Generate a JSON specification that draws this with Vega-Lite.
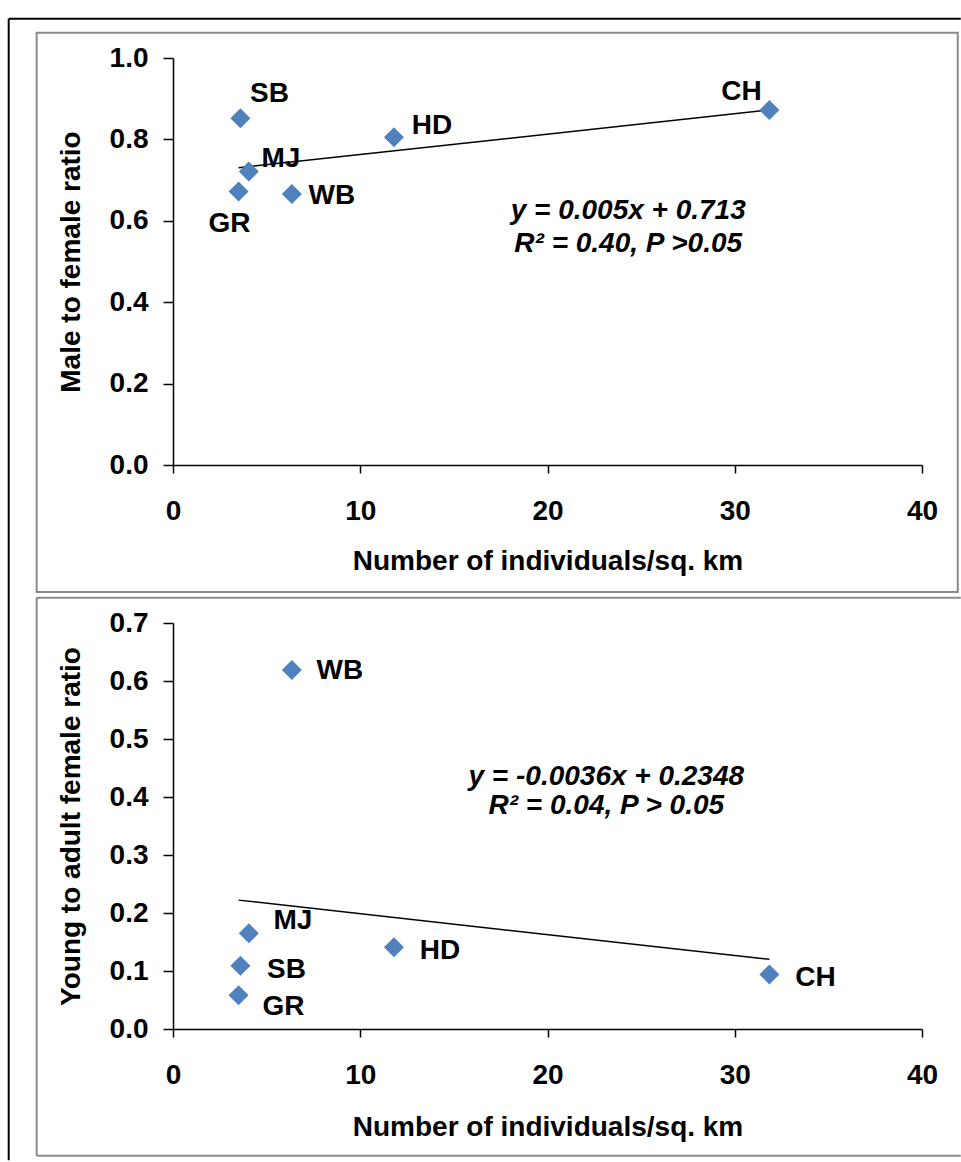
{
  "$schema": "https://vega.github.io/schema/vega-lite/v6.json",
  "padding": {"left": 7, "top": 17, "right": 0, "bottom": 0},
  "autosize": {"type": "pad"},
  "bounds": "flush",
  "spacing": 158,
  "background": "white",
  "datasets": {
    "sites": [
      {"site": "SB", "density": 3.6, "mf_ratio": 0.852, "young_ratio": 0.109},
      {"site": "MJ", "density": 4.05, "mf_ratio": 0.721, "young_ratio": 0.165},
      {"site": "GR", "density": 3.5, "mf_ratio": 0.672, "young_ratio": 0.058},
      {"site": "WB", "density": 6.35, "mf_ratio": 0.666, "young_ratio": 0.619},
      {"site": "HD", "density": 11.8, "mf_ratio": 0.805, "young_ratio": 0.141},
      {"site": "CH", "density": 31.85, "mf_ratio": 0.872, "young_ratio": 0.094}
    ],
    "trend_mf": [{"x1": 3.5, "y1": 0.7305, "x2": 31.85, "y2": 0.8723}],
    "trend_yf": [{"x1": 3.5, "y1": 0.2222, "x2": 31.85, "y2": 0.1201}]
  },
  "config": {
    "view": {"stroke": null},
    "font": "Liberation Sans",
    "text": {"font": "Liberation Sans", "fontSize": 28, "fontWeight": "bold", "color": "black"},
    "axis": {
      "grid": false,
      "domainColor": "black",
      "domainWidth": 1.5,
      "tickColor": "black",
      "tickWidth": 1.5,
      "labelFont": "Liberation Sans",
      "labelFontSize": 28,
      "labelFontWeight": "bold",
      "labelColor": "black",
      "labelOverlap": false,
      "labelFlush": false,
      "titleFont": "Liberation Sans",
      "titleFontSize": 28,
      "titleFontWeight": "bold",
      "titleColor": "black"
    }
  },
  "vconcat": [
    {
      "width": 749,
      "height": 407,
      "layer": [
        {
          "data": {"values": [{}]},
          "mark": {"type": "rule", "color": "black", "strokeWidth": 2},
          "encoding": {
            "x": {"datum": -8.774, "type": "quantitative"},
            "x2": {"datum": 42.07},
            "y": {"datum": 1.0966, "type": "quantitative"}
          }
        },
        {
          "data": {"values": [{}]},
          "mark": {"type": "rule", "color": "black", "strokeWidth": 2},
          "encoding": {
            "x": {"datum": -8.774, "type": "quantitative"},
            "y": {"datum": 1.0966, "type": "quantitative"},
            "y2": {"datum": -1.708}
          }
        },
        {
          "data": {"values": [{}]},
          "mark": {"type": "rect", "fill": "transparent", "stroke": "#8a8a8a", "strokeWidth": 2},
          "encoding": {
            "x": {"datum": -7.28, "type": "quantitative"},
            "x2": {"datum": 41.91},
            "y": {"datum": 1.0622, "type": "quantitative"},
            "y2": {"datum": -0.3123}
          }
        },
        {
          "data": {"name": "trend_mf"},
          "mark": {"type": "rule", "color": "black", "strokeWidth": 1.5},
          "encoding": {
            "x": {"field": "x1", "type": "quantitative"},
            "x2": {"field": "x2"},
            "y": {"field": "y1", "type": "quantitative"},
            "y2": {"field": "y2"}
          }
        },
        {
          "data": {"name": "sites"},
          "layer": [
            {
              "mark": {"type": "point", "shape": "diamond", "filled": true, "color": "#4F81BD", "size": 400, "opacity": 1},
              "encoding": {
                "x": {
                  "field": "density", "type": "quantitative",
                  "scale": {"domain": [0, 40], "nice": false, "zero": false},
                  "axis": {"values": [0, 10, 20, 30, 40], "format": "d", "tickSize": 8, "labelPadding": 24, "titlePadding": 22, "title": "Number of individuals/sq. km"}
                },
                "y": {
                  "field": "mf_ratio", "type": "quantitative",
                  "scale": {"domain": [0, 1], "nice": false, "zero": false},
                  "axis": {"values": [0, 0.2, 0.4, 0.6, 0.8, 1.0], "format": ".1f", "tickSize": 10, "labelPadding": 15, "titlePadding": 24, "title": "Male to female ratio"}
                }
              }
            },
            {
              "transform": [{"filter": "datum.site === 'SB'"}],
              "mark": {"type": "text", "dx": 29, "dy": -24},
              "encoding": {"x": {"field": "density", "type": "quantitative"}, "y": {"field": "mf_ratio", "type": "quantitative"}, "text": {"field": "site"}}
            },
            {
              "transform": [{"filter": "datum.site === 'MJ'"}],
              "mark": {"type": "text", "dx": 32, "dy": -13},
              "encoding": {"x": {"field": "density", "type": "quantitative"}, "y": {"field": "mf_ratio", "type": "quantitative"}, "text": {"field": "site"}}
            },
            {
              "transform": [{"filter": "datum.site === 'GR'"}],
              "mark": {"type": "text", "dx": -9, "dy": 33},
              "encoding": {"x": {"field": "density", "type": "quantitative"}, "y": {"field": "mf_ratio", "type": "quantitative"}, "text": {"field": "site"}}
            },
            {
              "transform": [{"filter": "datum.site === 'WB'"}],
              "mark": {"type": "text", "dx": 40, "dy": 2},
              "encoding": {"x": {"field": "density", "type": "quantitative"}, "y": {"field": "mf_ratio", "type": "quantitative"}, "text": {"field": "site"}}
            },
            {
              "transform": [{"filter": "datum.site === 'HD'"}],
              "mark": {"type": "text", "dx": 38, "dy": -11},
              "encoding": {"x": {"field": "density", "type": "quantitative"}, "y": {"field": "mf_ratio", "type": "quantitative"}, "text": {"field": "site"}}
            },
            {
              "transform": [{"filter": "datum.site === 'CH'"}],
              "mark": {"type": "text", "dx": -28, "dy": -18},
              "encoding": {"x": {"field": "density", "type": "quantitative"}, "y": {"field": "mf_ratio", "type": "quantitative"}, "text": {"field": "site"}}
            }
          ]
        },
        {
          "data": {"values": [{}]},
          "mark": {"type": "text", "fontStyle": "italic", "text": "y = 0.005x + 0.713"},
          "encoding": {"x": {"datum": 24.31, "type": "quantitative"}, "y": {"datum": 0.6245, "type": "quantitative"}}
        },
        {
          "data": {"values": [{}]},
          "mark": {"type": "text", "fontStyle": "italic", "text": "R² = 0.40,  P >0.05"},
          "encoding": {"x": {"datum": 24.31, "type": "quantitative"}, "y": {"datum": 0.5434, "type": "quantitative"}}
        }
      ]
    },
    {
      "width": 749,
      "height": 406,
      "layer": [
        {
          "data": {"values": [{}]},
          "mark": {"type": "rule", "color": "#8a8a8a", "strokeWidth": 2},
          "encoding": {
            "x": {"datum": -7.28, "type": "quantitative"},
            "x2": {"datum": 42.07},
            "y": {"datum": 0.7436, "type": "quantitative"}
          }
        },
        {
          "data": {"values": [{}]},
          "mark": {"type": "rule", "color": "#8a8a8a", "strokeWidth": 2},
          "encoding": {
            "x": {"datum": -7.28, "type": "quantitative"},
            "x2": {"datum": 42.07},
            "y": {"datum": -0.2184, "type": "quantitative"}
          }
        },
        {
          "data": {"values": [{}]},
          "mark": {"type": "rule", "color": "#8a8a8a", "strokeWidth": 2},
          "encoding": {
            "x": {"datum": -7.28, "type": "quantitative"},
            "y": {"datum": 0.7436, "type": "quantitative"},
            "y2": {"datum": -0.2184}
          }
        },
        {
          "data": {"name": "trend_yf"},
          "mark": {"type": "rule", "color": "black", "strokeWidth": 1.5},
          "encoding": {
            "x": {"field": "x1", "type": "quantitative"},
            "x2": {"field": "x2"},
            "y": {"field": "y1", "type": "quantitative"},
            "y2": {"field": "y2"}
          }
        },
        {
          "data": {"name": "sites"},
          "layer": [
            {
              "mark": {"type": "point", "shape": "diamond", "filled": true, "color": "#4F81BD", "size": 400, "opacity": 1},
              "encoding": {
                "x": {
                  "field": "density", "type": "quantitative",
                  "scale": {"domain": [0, 40], "nice": false, "zero": false},
                  "axis": {"values": [0, 10, 20, 30, 40], "format": "d", "tickSize": 8, "labelPadding": 24, "titlePadding": 24, "title": "Number of individuals/sq. km"}
                },
                "y": {
                  "field": "young_ratio", "type": "quantitative",
                  "scale": {"domain": [0, 0.7], "nice": false, "zero": false},
                  "axis": {"values": [0, 0.1, 0.2, 0.3, 0.4, 0.5, 0.6, 0.7], "format": ".1f", "tickSize": 10, "labelPadding": 15, "titlePadding": 24, "title": "Young to adult female ratio"}
                }
              }
            },
            {
              "transform": [{"filter": "datum.site === 'MJ'"}],
              "mark": {"type": "text", "dx": 44, "dy": -12},
              "encoding": {"x": {"field": "density", "type": "quantitative"}, "y": {"field": "young_ratio", "type": "quantitative"}, "text": {"field": "site"}}
            },
            {
              "transform": [{"filter": "datum.site === 'GR'"}],
              "mark": {"type": "text", "dx": 45, "dy": 12},
              "encoding": {"x": {"field": "density", "type": "quantitative"}, "y": {"field": "young_ratio", "type": "quantitative"}, "text": {"field": "site"}}
            },
            {
              "transform": [{"filter": "datum.site === 'SB' || datum.site === 'HD' || datum.site === 'CH'"}],
              "mark": {"type": "text", "dx": 46, "dy": 4},
              "encoding": {"x": {"field": "density", "type": "quantitative"}, "y": {"field": "young_ratio", "type": "quantitative"}, "text": {"field": "site"}}
            },
            {
              "transform": [{"filter": "datum.site === 'WB'"}],
              "mark": {"type": "text", "dx": 48, "dy": 1},
              "encoding": {"x": {"field": "density", "type": "quantitative"}, "y": {"field": "young_ratio", "type": "quantitative"}, "text": {"field": "site"}}
            }
          ]
        },
        {
          "data": {"values": [{}]},
          "mark": {"type": "text", "fontStyle": "italic", "text": "y = -0.0036x + 0.2348"},
          "encoding": {"x": {"datum": 23.14, "type": "quantitative"}, "y": {"datum": 0.435, "type": "quantitative"}}
        },
        {
          "data": {"values": [{}]},
          "mark": {"type": "text", "fontStyle": "italic", "text": "R² = 0.04,  P > 0.05"},
          "encoding": {"x": {"datum": 23.14, "type": "quantitative"}, "y": {"datum": 0.385, "type": "quantitative"}}
        }
      ]
    }
  ]
}
